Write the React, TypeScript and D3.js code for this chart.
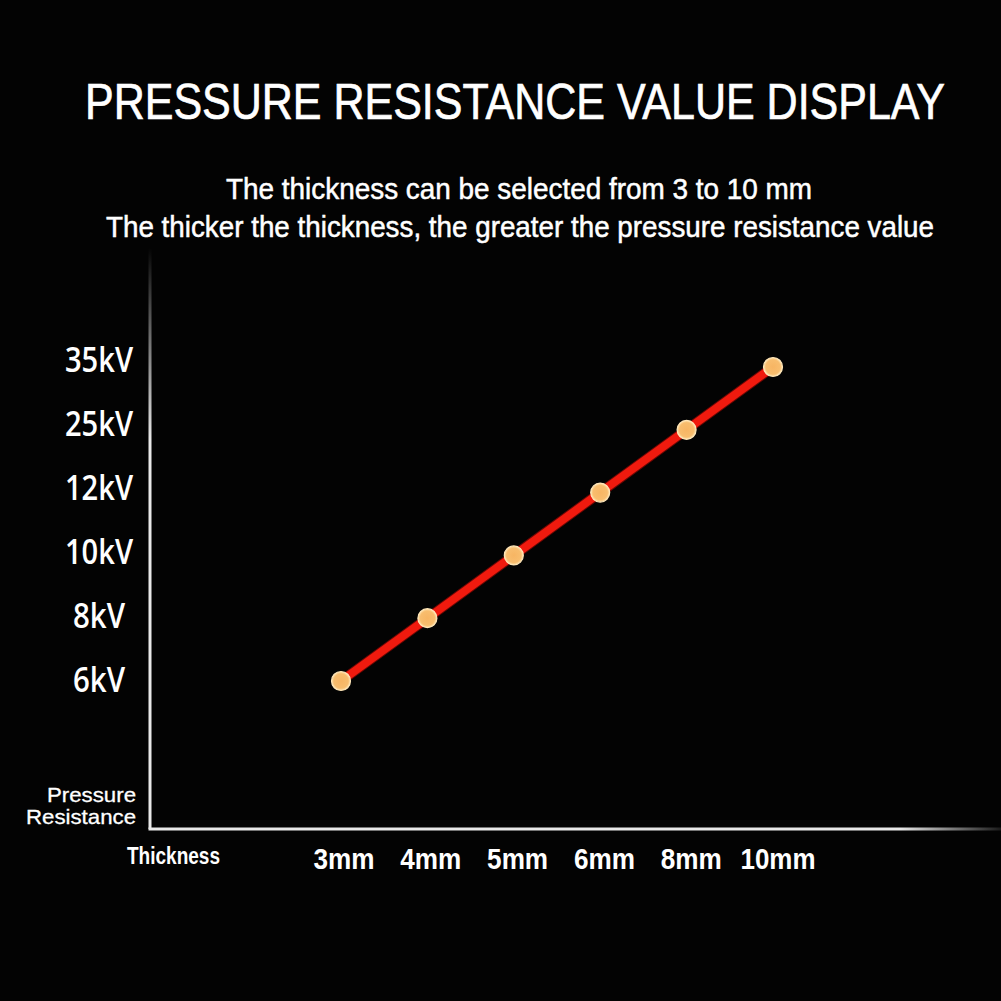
import React from "react";
import * as d3 from "d3";

const thicknessLabels = ["3mm", "4mm", "5mm", "6mm", "8mm", "10mm"];
const voltageLabels = ["6kV", "8kV", "10kV", "12kV", "25kV", "35kV"];
const seriesThickness = ["3mm", "4mm", "5mm", "6mm", "8mm", "10mm"];
const seriesVoltage = ["6kV", "8kV", "10kV", "12kV", "25kV", "35kV"];

const W = 1001;
const H = 1001;

export default function App() {
  // axis label scales
  const xAxis = d3.scalePoint<string>().domain(thicknessLabels).range([344, 778]);
  const yAxis = d3.scalePoint<string>().domain(voltageLabels).range([680, 360]);
  // plotting scales for the series
  const x = d3.scalePoint<string>().domain(thicknessLabels).range([341, 773]);
  const y = d3.scalePoint<string>().domain(voltageLabels).range([681, 367]);
  const data = seriesThickness.map((t, i) => ({ t, v: seriesVoltage[i] }));
  const line = d3
    .line<{ t: string; v: string }>()
    .x((d) => x(d.t) as number)
    .y((d) => y(d.v) as number);

  const sans = "'Liberation Sans', Arial, sans-serif";
  return (
    <svg
      width={W}
      height={H}
      style={{ position: "absolute", left: 0, top: 0, display: "block" }}
    >
      <defs>
        <linearGradient id="yAxisFade" gradientUnits="userSpaceOnUse" x1="0" y1="248" x2="0" y2="440">
          <stop offset="0" stopColor="#e8e8e8" stopOpacity="0" />
          <stop offset="1" stopColor="#e8e8e8" stopOpacity="1" />
        </linearGradient>
        <linearGradient id="xAxisFade" gradientUnits="userSpaceOnUse" x1="900" y1="0" x2="1001" y2="0">
          <stop offset="0" stopColor="#e8e8e8" stopOpacity="1" />
          <stop offset="1" stopColor="#e8e8e8" stopOpacity="0.1" />
        </linearGradient>
        <radialGradient id="dotFill" cx="0.5" cy="0.5" r="0.5">
          <stop offset="0" stopColor="#f7b563" />
          <stop offset="0.75" stopColor="#f8bd6e" />
          <stop offset="1" stopColor="#ffe2ad" />
        </radialGradient>
      </defs>
      <rect x={0} y={0} width={W} height={H} fill="#030303" />

      {/* Title */}
      <text
        transform="translate(85,119) scale(1,1.12)"
        x={0}
        y={0}
        fill="#ffffff"
        stroke="#ffffff"
        strokeWidth={0.6}
        fontFamily={sans}
        fontSize={45}
        textLength={860}
        lengthAdjust="spacingAndGlyphs"
      >
        PRESSURE RESISTANCE VALUE DISPLAY
      </text>
      <text
        x={226}
        y={199}
        fill="#ffffff"
        stroke="#ffffff"
        strokeWidth={0.5}
        fontFamily={sans}
        fontSize={29}
        textLength={586}
        lengthAdjust="spacingAndGlyphs"
      >
        The thickness can be selected from 3 to 10 mm
      </text>
      <text
        x={106}
        y={237}
        fill="#ffffff"
        stroke="#ffffff"
        strokeWidth={0.5}
        fontFamily={sans}
        fontSize={29}
        textLength={828}
        lengthAdjust="spacingAndGlyphs"
      >
        The thicker the thickness, the greater the pressure resistance value
      </text>

      {/* Axes */}
      <line x1={150} y1={248} x2={150} y2={829} stroke="url(#yAxisFade)" strokeWidth={3} />
      <line x1={148.5} y1={829} x2={1001} y2={829} stroke="url(#xAxisFade)" strokeWidth={3} />

      {/* Y labels */}
      {voltageLabels.map((v) => (
        <text
          key={v}
          x={99}
          y={(yAxis(v) as number) + 12}
          fill="#ffffff"
          fontFamily="'Open Sans', sans-serif"
          fontWeight={600}
          fontSize={34}
          textAnchor="middle"
          textLength={v.length === 4 ? 68 : 52}
          lengthAdjust="spacingAndGlyphs"
        >
          {v}
        </text>
      ))}

      {/* Y axis title */}
      <text x={136} y={802} fill="#ffffff" stroke="#ffffff" strokeWidth={0.3} fontFamily={sans} fontSize={21} textAnchor="end" textLength={89} lengthAdjust="spacingAndGlyphs">
        Pressure
      </text>
      <text x={136} y={824} fill="#ffffff" stroke="#ffffff" strokeWidth={0.3} fontFamily={sans} fontSize={21} textAnchor="end" textLength={110} lengthAdjust="spacingAndGlyphs">
        Resistance
      </text>

      {/* X labels */}
      <text x={127} y={864} fill="#ffffff" fontFamily={sans} fontWeight="bold" fontSize={23} textLength={93} lengthAdjust="spacingAndGlyphs">
        Thickness
      </text>
      {thicknessLabels.map((t) => (
        <text
          key={t}
          x={xAxis(t) as number}
          y={869}
          fill="#ffffff"
          fontFamily={sans}
          fontWeight="bold"
          fontSize={29}
          textAnchor="middle"
          textLength={t.length === 4 ? 75 : 61}
          lengthAdjust="spacingAndGlyphs"
        >
          {t}
        </text>
      ))}

      {/* Series line */}
      <path d={line(data) || ""} fill="none" stroke="#b00a05" strokeWidth={10} strokeLinecap="round" opacity={0.6} />
      <path d={line(data) || ""} fill="none" stroke="#f01a0e" strokeWidth={8} strokeLinecap="round" />

      {/* Points */}
      {data.map((d) => (
        <circle
          key={d.t}
          cx={x(d.t) as number}
          cy={y(d.v) as number}
          r={9.5}
          fill="url(#dotFill)"
          stroke="#ffe6b8"
          strokeWidth={1.2}
        />
      ))}
    </svg>
  );
}
